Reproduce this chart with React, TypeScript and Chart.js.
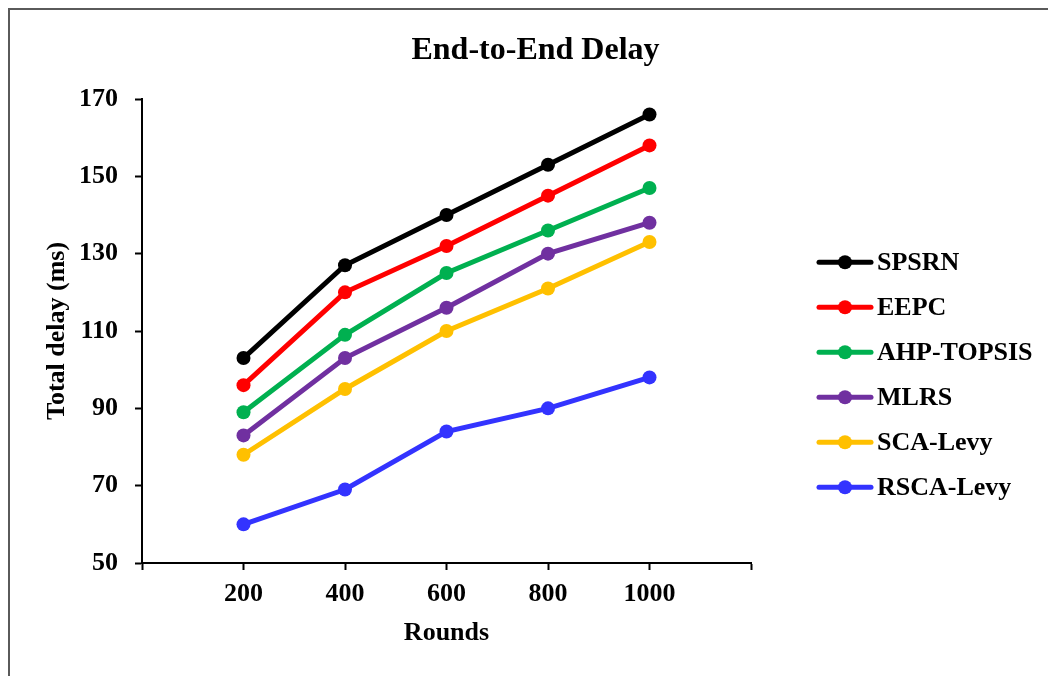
import React, { useEffect, useRef } from "react";
import { Chart, registerables } from "chart.js";

Chart.register(...registerables);

const rounds = [200, 400, 600, 800, 1000];
const seriesNames = ["SPSRN", "EEPC", "AHP-TOPSIS", "MLRS", "SCA-Levy", "RSCA-Levy"];
const spsrn = [103, 127, 140, 153, 166];
const eepc = [96, 120, 132, 145, 158];
const ahpTopsis = [89, 109, 125, 136, 147];
const mlrs = [83, 103, 116, 130, 138];
const scaLevy = [78, 95, 110, 121, 133];
const rscaLevy = [60, 69, 84, 90, 98];
const seriesColors = ["#000000", "#FF0000", "#00B050", "#7030A0", "#FFC000", "#3333FF"];
const chartTitle = "End-to-End Delay";
const xTitle = "Rounds";
const yTitle = "Total delay (ms)";

const FONT = "'Times New Roman', 'Liberation Serif', serif";

const titlePlugin = {
  id: "customTitle",
  afterDraw(chart: any) {
    const ctx = chart.ctx;
    ctx.save();
    ctx.font = `bold 32px ${FONT}`;
    ctx.fillStyle = "#000";
    ctx.textAlign = "center";
    ctx.textBaseline = "alphabetic";
    ctx.fillText(chartTitle, 525.5, 49);
    ctx.restore();
  },
};

const legendPlugin = {
  id: "customLegend",
  afterDraw(chart: any) {
    const ctx = chart.ctx;
    ctx.save();
    chart.data.datasets.forEach((ds: any, i: number) => {
      const y = 252.3 + 45 * i;
      ctx.strokeStyle = ds.borderColor;
      ctx.lineWidth = 5;
      ctx.lineCap = "round";
      ctx.beginPath();
      ctx.moveTo(809, y);
      ctx.lineTo(861, y);
      ctx.stroke();
      ctx.fillStyle = ds.borderColor;
      ctx.beginPath();
      ctx.arc(835, y, 7, 0, Math.PI * 2);
      ctx.fill();
      ctx.fillStyle = "#000";
      ctx.font = `bold 26px ${FONT}`;
      ctx.textAlign = "left";
      ctx.textBaseline = "middle";
      ctx.fillText(ds.label, 867, y + 1);
    });
    ctx.restore();
  },
};

export default function App() {
  const ref = useRef<HTMLCanvasElement>(null);
  useEffect(() => {
    if (!ref.current) return;
    Chart.defaults.font.family = FONT;
    const all = [spsrn, eepc, ahpTopsis, mlrs, scaLevy, rscaLevy];
    const chart = new Chart(ref.current, {
      type: "line",
      data: {
        datasets: all.map((vals, i) => ({
          label: seriesNames[i],
          data: rounds.map((r, j) => ({ x: r, y: vals[j] })),
          borderColor: seriesColors[i],
          backgroundColor: seriesColors[i],
          pointBackgroundColor: seriesColors[i],
          pointBorderColor: seriesColors[i],
          borderWidth: 5,
          pointRadius: 7,
          pointBorderWidth: 0,
          fill: false,
          tension: 0,
        })),
      },
      options: {
        responsive: false,
        animation: false,
        devicePixelRatio: 1,
        layout: { padding: { top: 89, left: 0, right: 297, bottom: 0 } },
        plugins: {
          legend: { display: false },
          title: { display: false },
          tooltip: { enabled: false },
        },
        scales: {
          x: {
            type: "linear",
            min: 0,
            max: 1200,
            afterFit: (s: any) => {
              s.height = 113;
            },
            ticks: {
              stepSize: 200,
              padding: 9,
              color: "#000",
              font: { size: 26, weight: "bold", family: FONT },
              callback: (v: any) => (v === 0 || v === 1200 ? "" : String(v)),
              maxRotation: 0,
              autoSkip: false,
            },
            grid: {
              drawOnChartArea: false,
              drawTicks: true,
              tickLength: 7,
              tickColor: "#000",
              tickWidth: 2,
            },
            border: { color: "#000", width: 2 },
            title: {
              display: true,
              text: xTitle,
              color: "#000",
              font: { size: 26, weight: "bold", family: FONT },
              padding: { top: 27, bottom: 27 },
            },
          },
          y: {
            min: 50,
            max: 170,
            afterFit: (s: any) => {
              s.width = 132;
            },
            ticks: {
              stepSize: 20,
              padding: 17,
              color: "#000",
              font: { size: 26, weight: "bold", family: FONT },
            },
            grid: {
              drawOnChartArea: false,
              drawTicks: true,
              tickLength: 7,
              tickColor: "#000",
              tickWidth: 2,
            },
            border: { color: "#000", width: 2 },
            title: {
              display: true,
              text: yTitle,
              color: "#000",
              font: { size: 26, weight: "bold", family: FONT },
              padding: { top: 32, bottom: 0 },
            },
          },
        },
      },
      plugins: [titlePlugin, legendPlugin],
    } as any);
    return () => chart.destroy();
  }, []);

  return (
    <div
      style={{
        position: "fixed",
        left: 8,
        top: 8,
        width: 1040,
        height: 668,
        boxSizing: "border-box",
        borderTop: "2px solid #5a5a5a",
        borderLeft: "2px solid #5a5a5a",
        overflow: "hidden",
        background: "#fff",
      }}
    >
      <canvas ref={ref} width={1038} height={666} style={{ display: "block" }} />
    </div>
  );
}
